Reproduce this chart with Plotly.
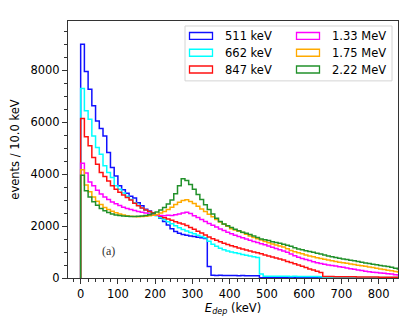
import plotly.graph_objects as go

# bin edges (keV), 10 keV bins
edges = list(range(0, 870, 10))

labels = ["511 keV", "662 keV", "847 keV", "1.33 MeV", "1.75 MeV", "2.22 MeV"]
colors = ["#1010ff", "#00ffff", "#ff1010", "#ff00ff", "#ffaa00", "#22912b"]

counts_511 = [
    9000, 7950, 7270, 6640, 6050, 5760, 5470, 4830, 4260, 3930,
    3550, 3400, 3260, 3150, 3080, 2900, 2780, 2650, 2580, 2500,
    2420, 2300, 2180, 2040, 1900, 1790, 1720, 1680, 1650, 1620,
    1600, 1570, 1550, 1520, 440, 110, 100, 105, 95, 100,
    95, 100, 90, 95, 90, 85, 90, 85, 10, 10,
    10, 10, 10, 10, 10, 10, 10, 10, 10, 10,
    10, 10, 10, 10, 10, 10, 10, 10, 10, 10,
    10, 10, 10, 10, 10, 10, 10, 10, 10, 10,
    10, 10, 10, 10, 10, 10,
]
counts_662 = [
    7300, 6440, 6120, 5470, 5030, 4770, 4320, 4060, 3870, 3550,
    3420, 3270, 3150, 3020, 2900, 2800, 2700, 2610, 2540, 2470,
    2400, 2320, 2250, 2170, 2090, 2010, 1940, 1870, 1810, 1750,
    1700, 1650, 1600, 1550, 1420, 1300, 1220, 1150, 1090, 1040,
    1000, 970, 940, 910, 880, 850, 820, 790, 150, 70,
    70, 65, 70, 65, 70, 65, 60, 65, 60, 60,
    60, 55, 60, 55, 50, 15, 15, 15, 15, 15,
    15, 15, 15, 15, 15, 15, 15, 15, 15, 15,
    15, 15, 15, 15, 15, 15,
]
counts_847 = [
    6140, 5440, 5090, 4640, 4380, 4060, 3910, 3740, 3550, 3420,
    3300, 3200, 3100, 3000, 2880, 2780, 2700, 2620, 2560, 2500,
    2440, 2380, 2320, 2270, 2220, 2170, 2120, 2080, 2020, 1950,
    1880, 1800, 1730, 1660, 1580, 1510, 1450, 1400, 1340, 1290,
    1240, 1200, 1160, 1120, 1080, 1040, 1000, 970, 930, 890,
    850, 810, 770, 730, 690, 640, 600, 550, 500, 450,
    400, 350, 310, 260, 210, 60, 55, 55, 50, 50,
    50, 45, 45, 45, 40, 40, 40, 35, 35, 35,
    30, 30, 30, 30, 25, 25,
]
counts_1330 = [
    4420, 4040, 3700, 3550, 3380, 3240, 3120, 3020, 2930, 2860,
    2790, 2730, 2680, 2640, 2600, 2560, 2530, 2500, 2470, 2450,
    2430, 2410, 2400, 2420, 2410, 2440, 2470, 2500, 2530, 2480,
    2400, 2330, 2250, 2180, 2100, 2030, 1960, 1890, 1830, 1760,
    1700, 1650, 1600, 1550, 1500, 1450, 1410, 1370, 1320, 1280,
    1230, 1180, 1140, 1090, 1040, 990, 920, 860, 800, 750,
    710, 670, 630, 590, 560, 530, 500, 480, 460, 430,
    410, 390, 360, 340, 310, 290, 260, 240, 220, 210,
    190, 180, 160, 150, 130, 120,
]
counts_1750 = [
    4170, 3580, 3320, 3120, 2960, 2830, 2720, 2640, 2570, 2510,
    2470, 2430, 2400, 2380, 2370, 2360, 2370, 2380, 2400, 2420,
    2450, 2500, 2560, 2640, 2730, 2830, 2920, 2990, 3010, 2950,
    2870, 2760, 2660, 2560, 2460, 2360, 2250, 2160, 2070, 1990,
    1900, 1850, 1800, 1750, 1690, 1620, 1560, 1510, 1460, 1410,
    1360, 1310, 1270, 1230, 1190, 1130, 1060, 1010, 970, 930,
    890, 850, 820, 780, 750, 720, 690, 660, 640, 610,
    590, 570, 540, 520, 490, 470, 450, 420, 400, 380,
    350, 330, 300, 280, 250, 230,
]
counts_2220 = [
    3960, 3360, 3120, 2940, 2800, 2680, 2590, 2520, 2470, 2430,
    2410, 2390, 2380, 2370, 2370, 2380, 2390, 2410, 2440, 2480,
    2540, 2620, 2720, 2850, 3000, 3250, 3550, 3820, 3760, 3600,
    3420, 3220, 3020, 2820, 2640, 2470, 2300, 2180, 2080, 2010,
    1950, 1880, 1820, 1760, 1720, 1680, 1620, 1560, 1500, 1470,
    1440, 1400, 1370, 1340, 1300, 1260, 1220, 1170, 1120, 1090,
    1050, 1020, 990, 950, 920, 890, 850, 820, 790, 760,
    730, 710, 680, 660, 640, 610, 580, 560, 530, 510,
    480, 460, 440, 410, 380, 350,
]

series = [counts_511, counts_662, counts_847, counts_1330, counts_1750, counts_2220]

# page body has an 8px margin, so the figure is 8px smaller than the window
W, H = 411, 319
L, R, T, B = 60, 21, 13, 48.5
FONT = "DejaVu Sans"

# plot area in window pixels
PX0, PX1, PY0, PY1 = 68, 398, 21, 278.5


def px_x(x):
    return (x - PX0) / (PX1 - PX0)


def px_y(y):
    return (PY1 - y) / (PY1 - PY0)


fig = go.Figure()

# step histograms (start from 0 at the first edge)
for lab, col, cnt in zip(labels, colors, series):
    fig.add_trace(go.Scatter(
        x=[edges[0]] + edges,
        y=[0] + cnt + [cnt[-1]],
        mode="lines",
        line=dict(color=col, width=1.5, shape="hv"),
        name=lab,
        showlegend=False,
        hoverinfo="skip",
    ))

# legend drawn by hand: two columns of outlined rectangles
shapes = [dict(type="rect", xref="paper", yref="paper",
               x0=px_x(185), x1=px_x(392), y0=px_y(81), y1=px_y(26),
               line=dict(color="#d4d4d4", width=1), fillcolor="white", layer="above")]
annotations = []
for i, (lab, col) in enumerate(zip(labels, colors)):
    c, r = divmod(i, 3)
    yc = 36 + r * 16.8
    sx = 189.5 + c * 107
    shapes.append(dict(type="rect", xref="paper", yref="paper",
                       x0=px_x(sx), x1=px_x(sx + 23), y0=px_y(yc + 3.5), y1=px_y(yc - 3.5),
                       line=dict(color=col, width=1.3), layer="above"))
    annotations.append(dict(x=px_x(sx + 33), y=px_y(yc), xref="paper", yref="paper",
                            text=lab, showarrow=False, xanchor="left", yanchor="middle",
                            font=dict(family=FONT, size=11.5, color="black")))

annotations.append(dict(x=px_x(100), y=px_y(260), xref="paper", yref="paper",
                        text="(a)", showarrow=False,
                        font=dict(family="Liberation Serif", size=12, color="#333")))

axis_common = dict(
    showline=True, linecolor="#333", linewidth=1, mirror=True,
    ticks="outside", ticklen=5, tickwidth=1, tickcolor="#333",
    showgrid=False, zeroline=False, automargin=False, tickformat="d",
    tickfont=dict(family=FONT, size=11.5, color="black"),
)

fig.update_layout(
    width=W, height=H,
    margin=dict(l=L, r=R, t=T, b=B),
    plot_bgcolor="white", paper_bgcolor="white",
    shapes=shapes, annotations=annotations,
    xaxis=dict(range=[-34, 852], tick0=0, dtick=100,
               minor=dict(dtick=20, ticks="outside", ticklen=3, tickcolor="#333"),
               title=dict(text="<i>E</i><sub><i>dep</i></sub> (keV)", standoff=3,
                          font=dict(family=FONT, size=11.5, color="black")),
               **axis_common),
    yaxis=dict(range=[0, 9900], tick0=0, dtick=2000,
               minor=dict(dtick=500, ticks="outside", ticklen=3, tickcolor="#333"),
               title=dict(text="events / 10.0 keV", standoff=8,
                          font=dict(family=FONT, size=11.5, color="black")),
               **axis_common),
)

fig.write_html("out.html")
